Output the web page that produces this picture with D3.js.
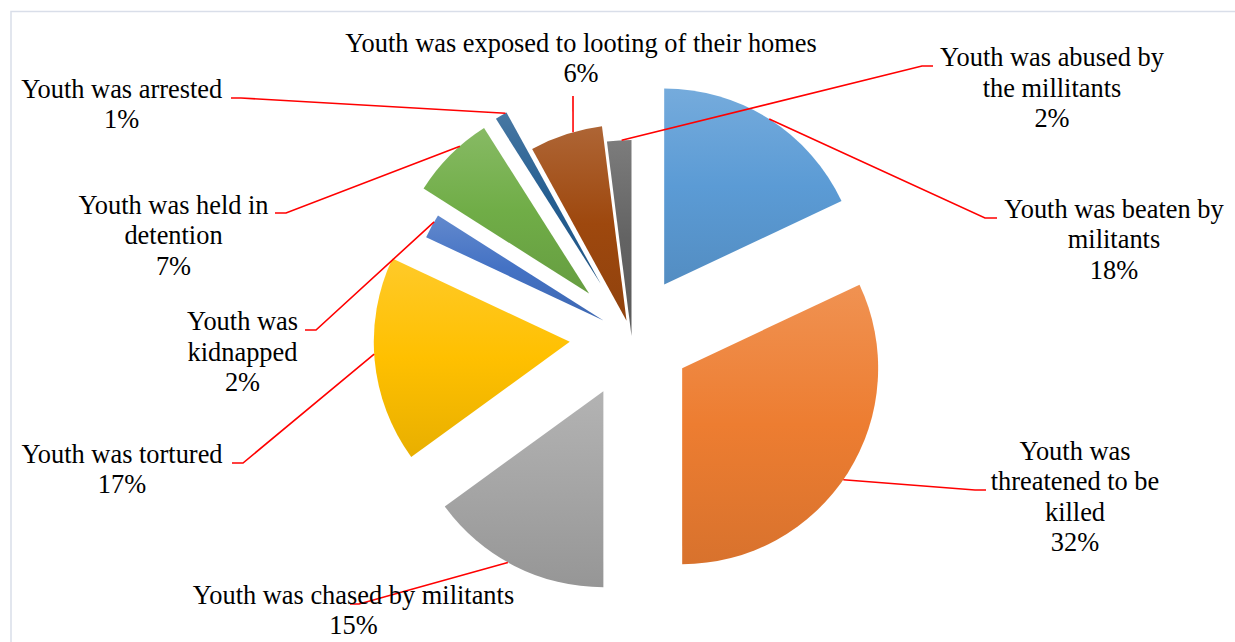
<!DOCTYPE html>
<html>
<head>
<meta charset="utf-8">
<script src="https://cdn.jsdelivr.net/npm/d3@7"></script>
<style>
  html, body { margin: 0; padding: 0; background: #fff; }
  svg { display: block; }
</style>
</head>
<body>
<svg id="chart" width="1235" height="642"></svg>
<script>
// Categories, clockwise from 12 o'clock
const categories = [
  "Youth was beaten by militants",
  "Youth was threatened to be killed",
  "Youth was chased by militants",
  "Youth was tortured",
  "Youth was kidnapped",
  "Youth was held in detention",
  "Youth was arrested",
  "Youth was exposed to looting of their homes",
  "Youth was abused by the millitants"
];

// Share of respondents (%)
const shares = [18, 32, 15, 17, 2, 7, 1, 6, 2];

// Wrapped label text for each category
const labelLines = [
  ["Youth was beaten by", "militants"],
  ["Youth was", "threatened to be", "killed"],
  ["Youth was chased by militants"],
  ["Youth was tortured"],
  ["Youth was", "kidnapped"],
  ["Youth was held in", "detention"],
  ["Youth was arrested"],
  ["Youth was exposed to looting of their homes"],
  ["Youth was abused by", "the millitants"]
];

// Office-style palette
const palette = ["#5B9BD5", "#ED7D31", "#A5A5A5", "#FFC000", "#4472C4",
                 "#70AD47", "#255E91", "#9E480E", "#636363"];

// ---- layout ----
const W = 1235, H = 642;
const cx = 631.5, cy = 336, radius = 196;
const explode = [61, 60, 62, 62, 32, 60, 60, 16, 0];   // px pulled out along the bisector
const lineH = 30.5;
const labelPos = [
  [1114, 217.5], [1075, 459.5], [353.5, 603.5], [122, 462.5], [242.5, 330],
  [173.5, 213.5], [121.7, 97.7], [581, 51.5], [1052, 66]
];
// where on the arc (fraction of the slice's sweep) the leader starts, then elbow and end
const leaderSpec = [
  { t: 0.5,  elbow: [985, 218],  end: [997, 218] },
  { t: 0.52, elbow: [975, 490],  end: [986, 490] },
  { t: 0.54, elbow: [359, 604],  end: [350, 604] },
  { t: 0.53, elbow: [243, 463],  end: [232, 463] },
  { t: 0.7,  elbow: [316, 330],  end: [305, 330] },
  { t: 0.65, elbow: [286, 213],  end: [275, 213] },
  { t: 0.9,  elbow: [241, 98],   end: [231, 98] },
  { t: 0.6,  elbow: [573, 96],   end: [573, 96] },
  { t: 0.6,  elbow: [922, 66],   end: [933, 66] }
];

const svg = d3.select("#chart");
const total = d3.sum(shares);

// chart frame
svg.append("rect")
  .attr("x", 11).attr("y", 11.5)
  .attr("width", W + 20).attr("height", H + 20)
  .attr("fill", "#fff")
  .attr("stroke", "#D9DEE9")
  .attr("stroke-width", 1.5);

// vertical shading gradients per slice
const defs = svg.append("defs");
palette.forEach((c, i) => {
  const g = defs.append("linearGradient")
    .attr("id", "grad" + i)
    .attr("x1", 0).attr("y1", 0).attr("x2", 0).attr("y2", 1);
  g.append("stop").attr("offset", "0%").attr("stop-color", d3.interpolateRgb(c, "#fff")(0.16));
  g.append("stop").attr("offset", "50%").attr("stop-color", c);
  g.append("stop").attr("offset", "100%").attr("stop-color", d3.interpolateRgb(c, "#000")(0.09));
});

const pie = d3.pie().sort(null).value(d => d).startAngle(0).endAngle(2 * Math.PI);
const arcs = pie(shares);
const arcGen = d3.arc().innerRadius(0).outerRadius(radius);

const offsetOf = (a, i) => {
  const mid = (a.startAngle + a.endAngle) / 2;
  return [cx + Math.sin(mid) * explode[i], cy - Math.cos(mid) * explode[i]];
};

const slices = svg.append("g").attr("class", "slices");
slices.selectAll("path")
  .data(arcs)
  .join("path")
  .attr("transform", (a, i) => { const o = offsetOf(a, i); return `translate(${o[0]},${o[1]})`; })
  .attr("d", arcGen)
  .attr("fill", (a, i) => `url(#grad${i})`);

// leader lines
const line = d3.line();
svg.append("g").attr("class", "leaders")
  .selectAll("path")
  .data(arcs)
  .join("path")
  .attr("d", (a, i) => {
    const o = offsetOf(a, i);
    const s = leaderSpec[i];
    const ang = a.startAngle + (a.endAngle - a.startAngle) * s.t;
    const start = [o[0] + Math.sin(ang) * radius, o[1] - Math.cos(ang) * radius];
    return line([start, s.elbow, s.end]);
  })
  .attr("fill", "none")
  .attr("stroke", "#FF0000")
  .attr("stroke-width", 1.6);

// data labels: category name + percentage
const labels = svg.append("g").attr("class", "labels")
  .attr("font-family", "'Liberation Serif', 'Times New Roman', serif")
  .attr("font-size", "26.4px")
  .attr("fill", "#000")
  .attr("text-anchor", "middle");

arcs.forEach((a, i) => {
  const pct = Math.round(a.data / total * 100) + "%";
  const rows = labelLines[i].concat([pct]);
  const t = labels.append("text")
    .attr("x", labelPos[i][0])
    .attr("y", labelPos[i][1]);
  rows.forEach((r, k) => {
    t.append("tspan")
      .attr("x", labelPos[i][0])
      .attr("y", labelPos[i][1] + k * lineH)
      .text(r);
  });
});
</script>
</body>
</html>
